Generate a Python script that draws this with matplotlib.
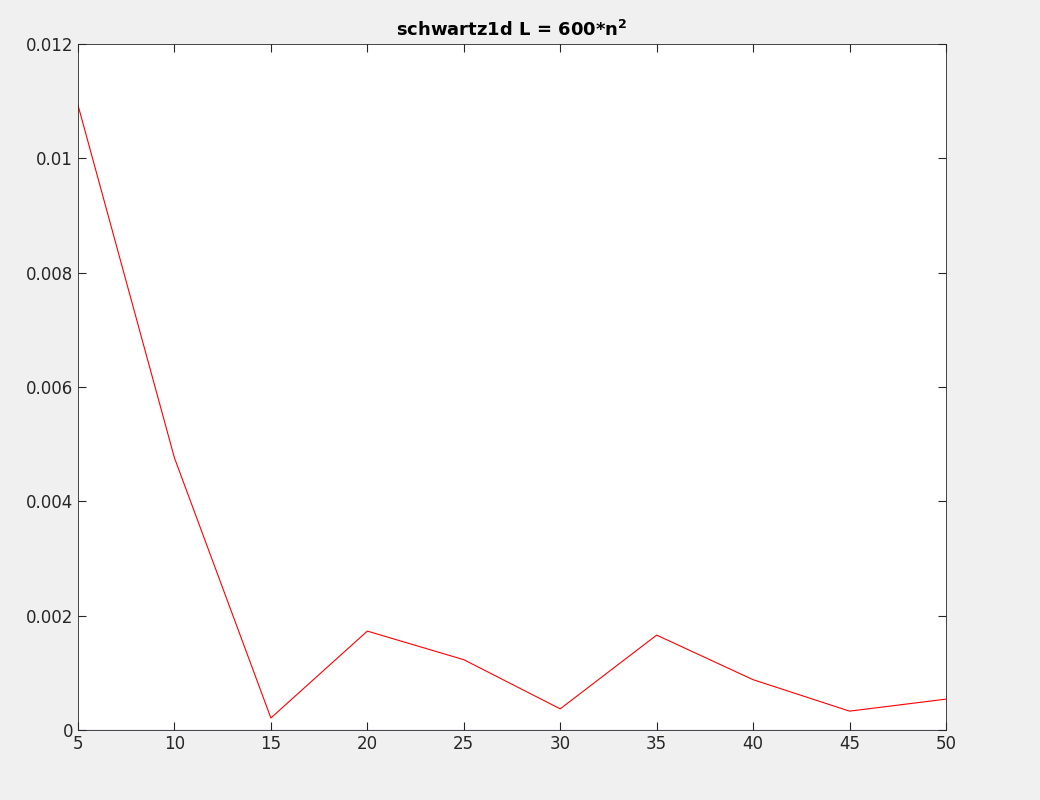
import numpy as np
import matplotlib
matplotlib.use("Agg")
import matplotlib.pyplot as plt

n = [5, 10, 15, 20, 25, 30, 35, 40, 45, 50]
err = [0.01093, 0.00476, 0.00021, 0.00173, 0.00123, 0.00037, 0.00166, 0.00088, 0.00033, 0.00054]
zero = [0] * len(n)

fig = plt.figure(figsize=(10.4, 8), dpi=100, facecolor='#f0f0f0')
ax = fig.add_axes([0.075, 0.0875, 0.8346, 0.8575])
ax.plot(n, err, color='red', lw=0.8)
ax.plot(n, zero, color='blue', lw=0.8)
ax.set_xlim(5, 50)
ax.set_ylim(0, 0.012)
ax.set_xticks(np.arange(5, 51, 5))
ax.set_yticks([0, 0.002, 0.004, 0.006, 0.008, 0.01, 0.012])
ax.set_yticklabels(['0', '0.002', '0.004', '0.006', '0.008', '0.01', '0.012'])
ax.tick_params(direction='in', top=True, right=True, labelsize=12, length=6, color='#262626', labelcolor='#262626')
for s in ax.spines.values():
    s.set_color('#262626')
    s.set_linewidth(0.6)
ax.set_title(r'schwartz1d L = 600*n$^{\mathbf{2}}$', fontsize=13, fontweight='bold', pad=6)
fig.savefig('out.png', facecolor=fig.get_facecolor())
